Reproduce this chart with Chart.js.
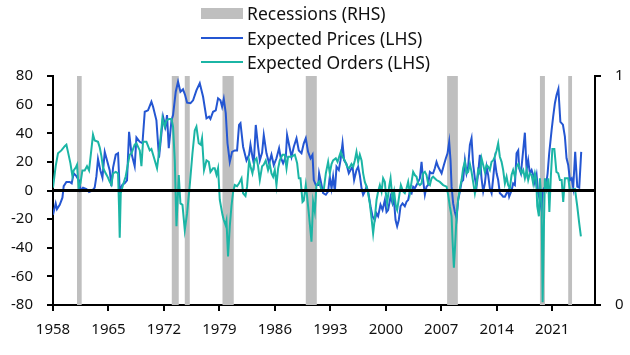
<!DOCTYPE html>
<html>
<head>
<meta charset="utf-8">
<script src="https://cdn.jsdelivr.net/npm/chart.js@4.4.1/dist/chart.umd.min.js"></script>
<style>
  html, body { margin: 0; padding: 0; background: #fff; }
  #wrap { position: relative; width: 630px; height: 355px; }
  #legend { position: absolute; left: 201px; top: 1px; font-family: "Noto Sans", sans-serif; font-size: 17.5px; color: #111; }
  .row { display: flex; align-items: center; height: 24.5px; white-space: nowrap; }
  .sw { width: 42px; margin-right: 4px; flex: none; }
  .box { height: 11px; background: #bfbfbf; }
  .ln { height: 2px; }
</style>
</head>
<body>
<div id="wrap">
  <canvas id="c" width="630" height="355"></canvas>
  <div id="legend"></div>
</div>
<script>
// ---- Data ----
const xTickLabels = [1958, 1965, 1972, 1979, 1986, 1993, 2000, 2007, 2014, 2021];
const rhsTickLabels = [0, 1];

const seriesNames = ["Recessions (RHS)", "Expected Prices (LHS)", "Expected Orders (LHS)"];

// recession periods (start, end) in decimal years
const recessionStarts = [1961.03, 1972.99, 1974.63, 1979.39, 1989.90, 2007.74, 2019.45, 2023.02];
const recessionEnds   = [1961.62, 1973.87, 1975.26, 1980.81, 1991.29, 2009.09, 2020.08, 2023.52];

// Expected Prices (LHS)
const priceYears = [
 1958.00,1958.34,1958.50,1958.85,1959.19,1959.35,1959.69,1960.11,1960.36,1960.61,1960.95,1961.28,1961.46,1961.79,
 1962.22,1962.55,1962.97,1963.26,1963.48,1963.68,1963.98,1964.24,1964.53,1964.82,1965.16,1965.37,1965.58,1965.92,
 1966.21,1966.42,1966.76,1967.05,1967.34,1967.60,1967.90,1968.31,1968.53,1968.95,1969.29,1969.58,1969.99,1970.42,
 1970.63,1971.05,1971.38,1971.69,1971.89,1972.19,1972.39,1972.61,1972.95,1973.15,1973.49,1973.78,1974.08,1974.41,
 1974.67,1974.92,1975.35,1975.68,1976.10,1976.52,1976.94,1977.37,1977.70,1977.87,1978.20,1978.54,1978.83,1979.13,
 1979.34,1979.55,1979.80,1980.02,1980.31,1980.60,1980.94,1981.23,1981.48,1981.66,1981.99,1982.42,1982.75,1982.92,
 1983.17,1983.34,1983.59,1983.88,1984.10,1984.39,1984.60,1984.94,1985.27,1985.57,1985.86,1986.20,1986.53,1986.71,
 1987.04,1987.38,1987.54,1987.88,1988.10,1988.39,1988.73,1989.02,1989.36,1989.65,1989.90,1990.19,1990.50,1990.75,
 1990.91,1991.17,1991.46,1991.58,1991.89,1992.09,1992.43,1992.72,1992.93,1993.15,1993.35,1993.57,1993.78,1994.07,
 1994.28,1994.54,1994.74,1995.04,1995.33,1995.55,1995.80,1996.00,1996.30,1996.51,1996.72,1996.94,1997.14,1997.35,
 1997.57,1997.77,1998.07,1998.32,1998.61,1998.83,1999.03,1999.33,1999.59,1999.88,2000.09,2000.29,2000.60,2000.85,
 2001.01,2001.23,2001.43,2001.64,2001.86,2002.11,2002.40,2002.62,2002.82,2003.03,2003.25,2003.45,2003.66,2003.88,
 2004.08,2004.30,2004.51,2004.71,2004.93,2005.14,2005.34,2005.56,2005.77,2005.97,2006.19,2006.40,2006.61,2006.82,
 2007.04,2007.33,2007.58,2007.79,2008.00,2008.17,2008.30,2008.50,2008.71,2008.93,2009.13,2009.35,2009.56,2009.76,
 2009.98,2010.19,2010.39,2010.61,2010.82,2011.02,2011.24,2011.45,2011.65,2011.87,2012.08,2012.29,2012.50,2012.72,
 2012.92,2013.13,2013.35,2013.55,2013.76,2013.98,2014.18,2014.39,2014.61,2014.81,2015.03,2015.24,2015.44,2015.57,
 2015.87,2016.07,2016.29,2016.50,2016.71,2016.83,2017.05,2017.26,2017.55,2017.77,2017.97,2018.18,2018.40,2018.60,
 2018.82,2019.03,2019.23,2019.45,2019.66,2019.79,2019.95,2020.20,2020.42,2020.62,2020.92,2021.12,2021.34,2021.55,
 2021.78,2022.03,2022.35,2022.60,2022.81,2023.02,2023.24,2023.45,2023.65,2023.90,2024.16,2024.41,2024.66
];
const priceValues = [
 -17,-9,-13,-10,-5,3,6,6,5,12,10,7,0,2,
 1,-1,0,2,10,22,14,9,27,21,14,3,16,25,
 26,0,4,5,7,41,26,17,37,34,33,55,56,62,
 58.5,49,23,40,51.6,44.6,52.7,29.5,49,52.7,69,76,69,70.7,
 66.7,61.4,61,63,70,75,65.5,50.4,51.6,50,55,56,64.4,63,
 58.5,64,54,33,20,27,28,28,45.8,47,30.6,21,25,32,
 23.6,19,45.8,30.6,21,26.5,38.8,26,19,25,17.8,22.5,29.5,23.6,
 19,23.6,38.8,29.5,23.6,30.6,36.5,28,26,33,36.5,27,22.5,25,
 7.3,3.8,3.8,12,3.8,-1.9,-3,-0.7,9.6,1.5,9.6,-0.7,16.6,14.3,
 21,33,21,18.5,12,14.3,16.6,7.3,14.3,16.6,10.8,1.5,-3,-0.7,
 2.7,-0.7,-11,-18,-20.6,-16,-18,-10,-13.6,-6.6,-15,-13.6,-4.3,-9,
 -5.5,-20.6,-25,-20.6,-11,-9,-11,-7.8,-6.6,-1,-2,2.7,1.5,3.8,
 6,8.5,20,7.3,-3,2.7,3.8,13,12,12,15.5,20,16.6,14.3,
 12,17.8,22.5,26,34,21,2.7,-9,-14.8,-19.4,-6.6,-0.7,6,7.3,
 21,12,16.6,31.8,36.5,18.5,8.5,2.7,12,25,8.5,-0.7,4.9,16.6,
 10.8,1.5,-1.9,8.5,21,12,7.3,-1.9,-3,-4.3,-4.3,-1.9,0,-4.3,
 0,4.9,3.8,26,28,15.5,12,23.6,40.4,14.3,21,12,14.3,10.8,
 4.9,10.8,-1.9,-6.6,-13.6,-0.7,1.5,2.7,12,26,42,51.6,61,66.7,
 71,48,46,37.6,22.5,17.8,7.3,8.5,2,27,2.7,2,27
];

// Expected Orders (LHS)
const orderYears = [
 1958.00,1958.34,1958.63,1959.06,1959.48,1959.69,1959.89,1960.20,1960.45,1960.61,1960.87,1961.03,1961.24,1961.46,
 1961.71,1962.00,1962.29,1962.55,1963.05,1963.26,1963.68,1963.90,1964.11,1964.31,1964.65,1964.94,1965.16,1965.37,
 1965.58,1965.92,1966.21,1966.33,1966.42,1966.55,1966.84,1967.18,1967.47,1967.68,1967.90,1968.31,1968.53,1968.95,
 1969.16,1969.36,1969.79,1970.21,1970.42,1970.71,1971.13,1971.47,1971.81,1972.10,1972.32,1972.65,1972.95,1973.15,
 1973.37,1973.58,1973.87,1974.08,1974.34,1974.63,1974.92,1975.26,1975.60,1975.89,1976.10,1976.39,1976.65,1976.81,
 1977.06,1977.37,1977.66,1977.87,1978.20,1978.41,1978.63,1978.83,1979.05,1979.39,1979.55,1979.77,1979.89,1980.09,
 1980.31,1980.52,1980.73,1980.94,1981.23,1981.48,1981.79,1981.99,1982.29,1982.49,1982.75,1982.92,1983.17,1983.46,
 1983.68,1983.88,1984.10,1984.39,1984.60,1984.85,1985.14,1985.36,1985.57,1985.78,1985.99,1986.20,1986.41,1986.62,
 1986.96,1987.25,1987.47,1987.67,1988.10,1988.52,1988.81,1989.02,1989.23,1989.49,1989.65,1989.90,1990.07,1990.32,
 1990.62,1990.83,1991.04,1991.25,1991.58,1991.89,1992.18,1992.43,1992.72,1992.93,1993.15,1993.35,1993.69,1993.91,
 1994.11,1994.32,1994.54,1994.83,1995.12,1995.37,1995.67,1995.88,1996.09,1996.30,1996.51,1996.72,1996.94,1997.14,
 1997.35,1997.57,1997.77,1997.98,1998.20,1998.40,1998.61,1998.83,1999.03,1999.25,1999.46,1999.66,1999.88,2000.00,
 2000.17,2000.42,2000.60,2000.85,2001.05,2001.27,2001.43,2001.68,2001.90,2002.19,2002.40,2002.62,2002.82,2003.03,
 2003.25,2003.45,2003.66,2003.88,2004.08,2004.30,2004.51,2004.71,2004.93,2005.14,2005.34,2005.56,2005.77,2005.97,
 2006.40,2006.82,2007.24,2007.67,2007.87,2008.08,2008.30,2008.42,2008.59,2008.75,2008.93,2009.13,2009.35,2009.56,
 2009.76,2009.98,2010.19,2010.39,2010.61,2010.82,2011.02,2011.24,2011.45,2011.65,2011.87,2012.08,2012.29,2012.50,
 2012.72,2012.92,2013.13,2013.35,2013.55,2013.76,2013.98,2014.18,2014.39,2014.61,2014.81,2015.03,2015.24,2015.44,
 2015.66,2015.87,2016.07,2016.29,2016.50,2016.71,2016.92,2017.13,2017.34,2017.55,2017.77,2017.97,2018.18,2018.40,
 2018.60,2018.82,2018.98,2019.11,2019.32,2019.45,2019.66,2019.79,2019.95,2020.08,2020.29,2020.49,2020.64,2020.83,
 2021.02,2021.27,2021.53,2021.76,2021.97,2022.19,2022.39,2022.60,2022.85,2023.02,2023.24,2023.49,2023.87,2024.16,
 2024.41,2024.62
];
const orderValues = [
 2,17,26,28,31,32,27,19,10,14,16,18,2,5,
 14,14,17,14,39,35,34,30,24,16,12,9,6,4,
 12,13,12,-11,-33,-2,4,10,19,25,26,32,33,28,
 17,34,34,28,29,23.6,15.5,30.6,50.4,44.6,49,50,50,44.6,
 21,-25,10.8,-9,-10,-27.6,-16,3.8,26,42,44.6,33,32,36.5,
 14.3,21,20,13,15.5,15.5,11,15.5,-6.6,-17,-20.6,-24,-21,-46,
 -25,-11,-1,3.8,3,5,8.5,-1.9,-3.8,2.7,21,17,12,21,
 22.5,17,7.3,17,18,21,14.3,18.5,12,9.6,14.3,3.8,15.5,21,
 25,25,15.5,23.6,23.6,25,19,8.5,8.5,-8,-7,3.8,-4.3,-18,
 -35.8,-8,-14.8,3.8,6.2,0,1,12,20,12,18.5,21,22.5,20,
 23.6,27,23.6,21,16.6,15.5,18.5,16.6,21,27,20,25,21,12,
 6,2.7,-1.9,-9,-19.4,-30,-19.4,-6.6,-0.7,3.8,-0.7,8.5,6,-1.9,
 -9,2.7,8.5,-6.6,-0.7,-11,-13.6,-4.3,3.8,-0.7,-1.9,1.5,6,-1.9,
 6,13,10.8,9.6,4.9,3.8,4.9,12,13,10.8,4.9,3.8,8.5,9.6,
 7.3,6,3.8,2.7,-3,-11,-18,-34.6,-54,-38,-18,-6.6,1.5,7.3,
 15.5,20,12,13,18.5,13,6,-1.9,4.9,14.3,12,22.5,17.8,13,
 17.8,16.6,14.3,20,21,23.6,28,33,23.6,20,14.3,4.9,9.6,3.8,
 1.5,10.8,14.3,9.6,16.6,18.5,15.5,12,14.3,8.5,14.3,7.3,12,10.8,
 4.9,12,8,-11,-18,8.5,-9,-78,-25,8.5,1.5,8.5,-15,10,
 29,29,13,12,7.3,7.3,-8,8.5,8.5,8.5,0,0.5,1,-11,
 -23,-32
];

// ---- Build chart ----
const BLUE = "#2456d2", TEAL = "#1bb5a5", GREY = "#bfbfbf";

const recPoints = [];
recessionStarts.forEach((s, i) => {
  const e = recessionEnds[i];
  recPoints.push({x: s, y: 0}, {x: s, y: 1}, {x: e, y: 1}, {x: e, y: 0});
});
const toXY = (xs, ys) => xs.map((x, i) => ({x: x, y: ys[i]}));

const legend = document.getElementById("legend");
[[GREY, "box"], [BLUE, "ln"], [TEAL, "ln"]].forEach((d, i) => {
  const row = document.createElement("div"); row.className = "row";
  const sw = document.createElement("div"); sw.className = "sw " + d[1]; sw.style.background = d[0];
  const tx = document.createElement("span"); tx.textContent = seriesNames[i];
  row.appendChild(sw); row.appendChild(tx); legend.appendChild(row);
});

const FONT = {family: "'Noto Sans', sans-serif", size: 15};
const xMin = xTickLabels[0], xMax = 2026.4;

new Chart(document.getElementById("c"), {
  type: "line",
  data: {
    datasets: [
      {label: "zero", data: [{x: xMin, y: 0}, {x: xMax, y: 0}], borderColor: "#000", borderWidth: 3,
       pointRadius: 0, yAxisID: "y", order: 0},
      {label: seriesNames[2], data: toXY(orderYears, orderValues), borderColor: TEAL, borderWidth: 2,
       pointRadius: 0, tension: 0, yAxisID: "y", order: 1},
      {label: seriesNames[1], data: toXY(priceYears, priceValues), borderColor: BLUE, borderWidth: 2,
       pointRadius: 0, tension: 0, yAxisID: "y", order: 2},
      {label: seriesNames[0], data: recPoints, borderWidth: 0, borderColor: "rgba(0,0,0,0)",
       backgroundColor: GREY, fill: "origin", pointRadius: 0, tension: 0, yAxisID: "y2", order: 3}
    ]
  },
  options: {
    responsive: false,
    animation: false,
    devicePixelRatio: 1,
    layout: {padding: {top: 76, left: 0, right: 0, bottom: 0}},
    plugins: {legend: {display: false}, tooltip: {enabled: false}},
    scales: {
      x: {
        type: "linear", min: xMin, max: xMax,
        border: {display: true, color: "#000", width: 2},
        grid: {display: true, drawOnChartArea: false, color: "#000", lineWidth: 2, tickLength: 6},
        ticks: {font: FONT, color: "#111", padding: 10, maxRotation: 0, autoSkip: false,
                callback: v => String(v)},
        afterBuildTicks: s => { s.ticks = xTickLabels.map(v => ({value: v})); },
        afterFit: s => { s.height = 50; }
      },
      y: {
        type: "linear", position: "left", min: -80, max: 80,
        border: {display: true, color: "#000", width: 2},
        grid: {display: true, drawOnChartArea: false, color: "#000", lineWidth: 2, tickLength: 6},
        ticks: {font: FONT, color: "#111", stepSize: 20, padding: 14},
        afterFit: s => { s.width = 53; }
      },
      y2: {
        type: "linear", position: "right", min: 0, max: 1,
        border: {display: true, color: "#000", width: 2},
        grid: {display: true, drawOnChartArea: false, color: "#000", lineWidth: 2, tickLength: 6},
        ticks: {font: FONT, color: "#111", padding: 14, callback: v => String(v)},
        afterBuildTicks: s => { s.ticks = rhsTickLabels.map(v => ({value: v})); },
        afterFit: s => { s.width = 35; }
      }
    }
  }
});
</script>
</body>
</html>
